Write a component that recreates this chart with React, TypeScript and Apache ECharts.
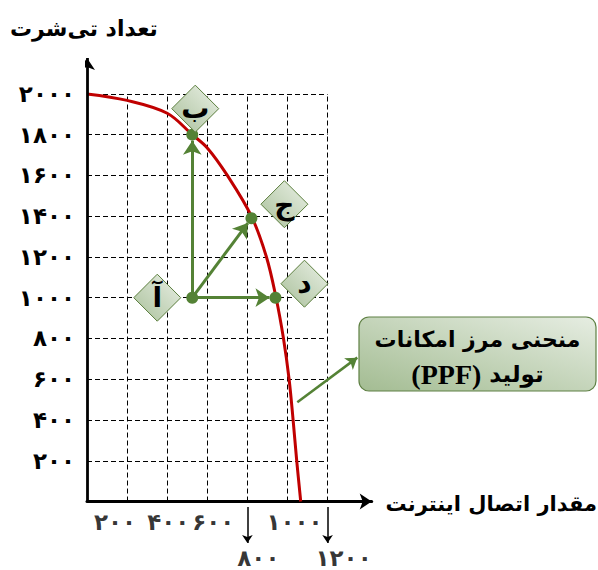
import React, { useEffect, useRef } from "react";
import * as echarts from "echarts";

// ---- texts ----
const yTitle = "تعداد تی‌شرت";
const xTitle = "مقدار اتصال اینترنت";
const calloutLine1 = "منحنی مرز امکانات";
const calloutWordFa = "تولید";
const calloutWordEn = "(PPF)";

// ---- ticks ----
const gridXTicks = [200, 400, 600, 800, 1000, 1200];
const gridYTicks = [200, 400, 600, 800, 1000, 1200, 1400, 1600, 1800, 2000];
const yTickLabels = ["۲۰۰", "۴۰۰", "۶۰۰", "۸۰۰", "۱۰۰۰", "۱۲۰۰", "۱۴۰۰", "۱۶۰۰", "۱۸۰۰", "۲۰۰۰"];
const xUpperTicks = [200, 400, 600, 1000];
const xUpperLabels = ["۲۰۰", "۴۰۰", "۶۰۰", "۱۰۰۰"];
const xLowerTicks = [800, 1200];
const xLowerLabels = ["۸۰۰", "۱۲۰۰"];

// ---- PPF curve ----
const ppfX = [0, 200, 400, 525, 600, 700, 820, 895, 943, 980, 1008, 1028, 1046, 1066];
const ppfY = [2000, 1968, 1905, 1800, 1735, 1600, 1400, 1200, 1000, 800, 600, 400, 200, 0];

// ---- labelled points ----
const pointNames = ["آ", "ب", "ج", "د"];
const pointX = [525, 525, 820, 940];
const pointY = [1000, 1800, 1390, 1000];
const moveFrom = 0;
const moveTargets = [1, 2, 3];

// ---- callout arrow (data space) ----
const calloutFrom = [1049, 487];
const calloutTo = [1348, 706];

const FA = '"DejaVu Sans", sans-serif';
const GREEN = "#548235";
const RED = "#c00000";

export default function App() {
  const ref = useRef<HTMLDivElement>(null);

  useEffect(() => {
    if (!ref.current) return;
    const chart = echarts.init(ref.current, null, { renderer: "svg" });

    const gridXMax = gridXTicks[gridXTicks.length - 1];
    const gridYMax = gridYTicks[gridYTicks.length - 1];

    const gridLines = [
      ...gridXTicks.map((x) => ({ coords: [[x, 0], [x, gridYMax]] })),
      ...gridYTicks.map((y) => ({ coords: [[0, y], [gridXMax, y]] })),
    ];

    const diamondOffsets = [[-35, 0], [3, -26], [33, -14], [29, -14]];
    const xUpperOffsets = [[-12, 20], [1, 20], [6, 20], [7, 20]];
    const xLowerOffsets = [[11, 56], [16, 56]];

    const diamondFill = new echarts.graphic.LinearGradient(0, 1, 1, 0, [
      { offset: 0, color: "#a9c09a" },
      { offset: 1, color: "#eaf0e6" },
    ]);
    const boxFill = new echarts.graphic.LinearGradient(0, 1, 1, 0, [
      { offset: 0, color: "#a3bc92" },
      { offset: 1, color: "#e6ede2" },
    ]);

    const tickLabelStyle = {
      show: true,
      position: "inside",
      formatter: "{b}",
      fontSize: 23,
      fontWeight: "bold",
      fontFamily: FA,
      color: "#000",
    };

    const option: any = {
      animation: false,
      grid: { left: 87, top: 57, width: 284.7, height: 513, outerBoundsMode: "none", containLabel: false },
      xAxis: {
        type: "value",
        min: 0,
        max: 1420,
        axisLine: {
          show: true,
          onZero: true,
          symbol: ["none", "arrow"],
          symbolSize: [12, 12],
          lineStyle: { color: "#000", width: 3 },
        },
        axisTick: { show: false },
        splitLine: { show: false },
        axisLabel: { show: false },
      },
      yAxis: {
        type: "value",
        min: -336,
        max: 2181,
        axisLine: { show: false, onZero: false },
        axisTick: { show: false },
        splitLine: { show: false },
        axisLabel: {
          customValues: gridYTicks,
          margin: 12,
          formatter: (v: number) => {
            const i = gridYTicks.indexOf(v);
            return i < 0 ? "" : yTickLabels[i];
          },
          fontSize: 23,
          fontWeight: "bold",
          fontFamily: FA,
          color: "#000",
        },
      },
      series: [
        {
          id: "grid",
          type: "lines",
          coordinateSystem: "cartesian2d",
          silent: true,
          symbol: "none",
          lineStyle: { color: "#000", width: 1, type: [5, 3], opacity: 1 },
          data: gridLines,
          z: 1,
        },
        {
          id: "ppf",
          type: "line",
          data: ppfX.map((x, i) => [x, ppfY[i]]),
          smooth: 0.35,
          showSymbol: false,
          symbol: "none",
          lineStyle: { color: RED, width: 3 },
          z: 3,
        },
        {
          id: "yAxisLine",
          type: "lines",
          coordinateSystem: "cartesian2d",
          symbol: ["none", "arrow"],
          symbolSize: 12,
          lineStyle: { color: "#000", width: 2.8, opacity: 1 },
          itemStyle: { color: "#000" },
          data: [{ coords: [[0, 0], [0, 2176]] }],
          z: 4,
        },
        {
          id: "tickArrows",
          type: "lines",
          coordinateSystem: "cartesian2d",
          symbol: ["none", "arrow"],
          symbolSize: 8,
          lineStyle: { color: "#000", width: 1.5, opacity: 1 },
          data: xLowerTicks.map((x) => ({ coords: [[x, -27], [x, -204]] })),
          z: 4,
        },
        {
          id: "moves",
          type: "lines",
          coordinateSystem: "cartesian2d",
          symbol: ["none", "arrow"],
          symbolSize: 14,
          lineStyle: { color: GREEN, width: 3, opacity: 1 },
          data: [],
          z: 5,
        },
        {
          id: "callout",
          type: "lines",
          coordinateSystem: "cartesian2d",
          symbol: ["none", "arrow"],
          symbolSize: 11,
          lineStyle: { color: GREEN, width: 2.5, opacity: 1 },
          data: [{ coords: [calloutFrom, calloutTo] }],
          z: 5,
        },
        {
          id: "dots",
          type: "scatter",
          symbol: "circle",
          symbolSize: 12,
          itemStyle: { color: GREEN, opacity: 1 },
          data: pointX.map((x, i) => [x, pointY[i]]),
          z: 6,
        },
        {
          id: "diamonds",
          type: "scatter",
          symbol: "diamond",
          symbolSize: 47,
          itemStyle: { color: diamondFill, borderColor: "#5a7d3c", borderWidth: 1, opacity: 1 },
          label: {
            show: true,
            position: "inside",
            formatter: "{b}",
            fontSize: 28,
            fontWeight: "bold",
            fontFamily: FA,
            color: "#000",
          },
          data: pointX.map((x, i) => ({
            name: pointNames[i],
            value: [x, pointY[i]],
            symbolOffset: diamondOffsets[i],
          })),
          z: 7,
        },
        {
          id: "upperXLabels",
          type: "scatter",
          symbol: "rect",
          symbolSize: 1,
          silent: true,
          itemStyle: { color: "rgba(0,0,0,0)" },
          label: tickLabelStyle,
          data: xUpperTicks.map((x, i) => ({
            name: xUpperLabels[i],
            value: [x, 0],
            label: { offset: xUpperOffsets[i] },
          })),
          z: 7,
        },
        {
          id: "lowerXLabels",
          type: "scatter",
          symbol: "rect",
          symbolSize: 1,
          silent: true,
          itemStyle: { color: "rgba(0,0,0,0)" },
          label: tickLabelStyle,
          data: xLowerTicks.map((x, i) => ({
            name: xLowerLabels[i],
            value: [x, 0],
            label: { offset: xLowerOffsets[i] },
          })),
          z: 7,
        },
      ],
      graphic: [
        {
          type: "text",
          x: 10,
          y: 28,
          style: {
            text: yTitle,
            fill: "#000",
            fontSize: 22,
            fontWeight: "bold",
            fontFamily: FA,
            align: "left",
            textAlign: "left",
            verticalAlign: "middle",
            textVerticalAlign: "middle",
          },
        },
        {
          type: "text",
          x: 597,
          y: 504,
          style: {
            text: xTitle,
            fill: "#000",
            fontSize: 21,
            fontWeight: "bold",
            fontFamily: FA,
            align: "right",
            textAlign: "right",
            verticalAlign: "middle",
            textVerticalAlign: "middle",
          },
        },
        {
          type: "group",
          x: 359,
          y: 317,
          z: 10,
          children: [
            {
              type: "rect",
              shape: { x: 0, y: 0, width: 237, height: 74, r: 10 },
              style: { fill: boxFill, stroke: "#5f8044", lineWidth: 1.2 },
            },
            {
              type: "text",
              x: 118.5,
              y: 22,
              style: {
                text: calloutLine1,
                fill: "#000",
                fontSize: 22,
                fontWeight: "bold",
                fontFamily: FA,
                align: "center",
                textAlign: "center",
                verticalAlign: "middle",
                textVerticalAlign: "middle",
              },
            },
            {
              type: "text",
              x: 118.5,
              y: 57,
              style: {
                text: `{en|${calloutWordEn}} {fa|${calloutWordFa}}`,
                fill: "#000",
                fontSize: 23,
                fontWeight: "bold",
                fontFamily: FA,
                align: "center",
                textAlign: "center",
                verticalAlign: "middle",
                textVerticalAlign: "middle",
                rich: {
                  en: { fontFamily: '"Liberation Serif", serif', fontSize: 28, fontWeight: "bold", fill: "#000" },
                  fa: { fontFamily: FA, fontSize: 23, fontWeight: "bold", fill: "#000" },
                },
              },
            },
          ],
        },
      ],
    };

    chart.setOption(option);

    const toPx = (p: number[]) => chart.convertToPixel({ gridIndex: 0 }, p) as number[];
    const toData = (p: number[]) => chart.convertFromPixel({ gridIndex: 0 }, p) as number[];
    const shorten = (from: number[], to: number[], px: number) => {
      const a = toPx(from);
      const b = toPx(to);
      const dx = b[0] - a[0];
      const dy = b[1] - a[1];
      const l = Math.hypot(dx, dy) || 1;
      return toData([b[0] - (dx / l) * px, b[1] - (dy / l) * px]);
    };
    const origin = [pointX[moveFrom], pointY[moveFrom]];
    chart.setOption({
      series: [
        {
          id: "moves",
          data: moveTargets.map((t) => ({
            coords: [origin, shorten(origin, [pointX[t], pointY[t]], 6)],
          })),
        },
      ],
    });

    return () => chart.dispose();
  }, []);

  return (
    <div
      ref={ref}
      style={{ position: "fixed", left: 0, top: 0, width: 598, height: 570, background: "#fff" }}
    />
  );
}
